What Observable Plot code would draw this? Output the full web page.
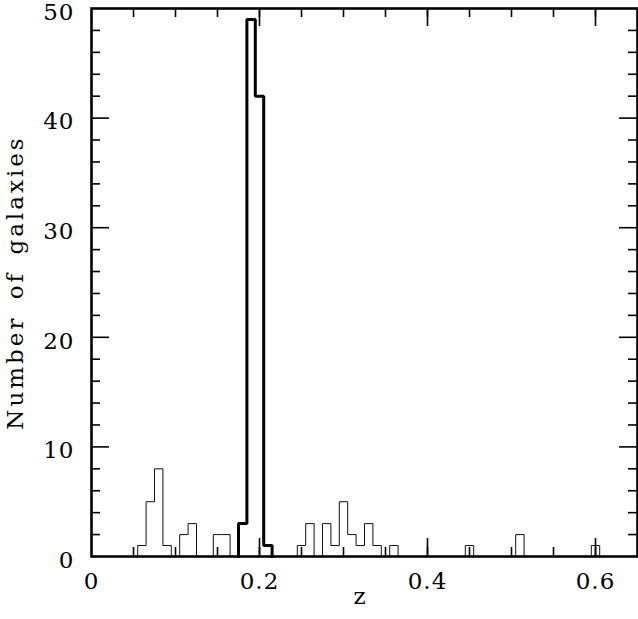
<!DOCTYPE html>
<html>
<head>
<meta charset="utf-8">
<script src="https://cdn.jsdelivr.net/npm/d3@7"></script>
<script src="https://cdn.jsdelivr.net/npm/@observablehq/plot@0.6"></script>
<style>
  html, body { margin: 0; padding: 0; background: #fff; }
</style>
</head>
<body>
<div id="chart"></div>
<script>
// Background / foreground galaxies (thin histogram), bin width 0.01
const binWidth = 0.01;
const fieldBinStart = [0.055,0.065,0.075,0.085,0.105,0.115,0.145,0.155,0.245,0.255,0.275,0.285,0.295,0.305,0.315,0.325,0.335,0.355,0.445,0.505,0.595];
const fieldCount    = [1,5,8,1,2,3,2,2,1,3,3,1,5,2,1,3,1,1,1,2,1];
// Cluster members (thick histogram)
const clusterBinStart = [0.175,0.185,0.195,0.205];
const clusterCount    = [3,49,42,1];

const xTickLabels = [0, 0.2, 0.4, 0.6];
const yTickLabels = [0, 10, 20, 30, 40, 50];
const xMinorTicks = d3.range(1, 13).map(i => +(i * 0.05).toFixed(2));
const yMinorTicks = d3.range(1, 25).map(i => i * 2).filter(v => v % 10 !== 0);
const xMajorTicks = [0.2, 0.4, 0.6];
const yMajorTicks = [10, 20, 30, 40];

function stepPoints(starts, counts) {
  const pts = [];
  for (let i = 0; i < starts.length; i++) {
    const s = starts[i], e = s + binWidth;
    const prevEnd = i > 0 ? starts[i - 1] + binWidth : null;
    if (prevEnd === null || Math.abs(prevEnd - s) > 1e-9) pts.push({z: s, n: 0});
    pts.push({z: s, n: counts[i]});
    const nextStart = i < starts.length - 1 ? starts[i + 1] : null;
    if (nextStart === null || Math.abs(nextStart - e) > 1e-9) pts.push({z: e, n: 0});
  }
  return pts;
}

const fieldPts = stepPoints(fieldBinStart, fieldCount);
const clusterPts = stepPoints(clusterBinStart, clusterCount);

const W = 638, H = 619;
const mL = 91, mR = 1, mT = 8, mB = 63;
const innerH = H - mT - mB;
const innerW = W - mL - mR;
const minorLen = 9, majorLen = 18;
const FS = 23;

const chart = Plot.plot({
  width: W,
  height: H,
  marginLeft: mL,
  marginRight: mR,
  marginTop: mT,
  marginBottom: mB,
  style: {fontFamily: "'DejaVu Serif', serif", fontSize: FS + "px", color: "#000", background: "#fff", overflow: "visible"},
  x: {domain: [0, 0.65], label: null},
  y: {domain: [0, 50], label: null},
  marks: [
    Plot.axisX(xTickLabels, {tickSize: 0, tickPadding: 16, tickFormat: d => d === 0 ? "0" : d.toFixed(1), label: null, fontSize: FS}),
    Plot.axisY(yTickLabels, {tickSize: 0, tickPadding: 17, dy: 4, label: null, fontSize: FS}),
    // minor and major ticks on all four sides (inward)
    Plot.tickX(xMinorTicks, {x: d => d, insetTop: innerH - minorLen, strokeWidth: 1.6}),
    Plot.tickX(xMinorTicks, {x: d => d, insetBottom: innerH - minorLen, strokeWidth: 1.6}),
    Plot.tickX(xMajorTicks, {x: d => d, insetTop: innerH - majorLen, strokeWidth: 1.6}),
    Plot.tickX(xMajorTicks, {x: d => d, insetBottom: innerH - majorLen, strokeWidth: 1.6}),
    Plot.tickY(yMinorTicks, {y: d => d, insetRight: innerW - minorLen, strokeWidth: 1.6}),
    Plot.tickY(yMinorTicks, {y: d => d, insetLeft: innerW - minorLen, strokeWidth: 1.6}),
    Plot.tickY(yMajorTicks, {y: d => d, insetRight: innerW - majorLen, strokeWidth: 1.6}),
    Plot.tickY(yMajorTicks, {y: d => d, insetLeft: innerW - majorLen, strokeWidth: 1.6}),
    Plot.line(fieldPts, {x: "z", y: "n", curve: "step-after", stroke: "#111", strokeWidth: 1}),
    Plot.line(clusterPts, {x: "z", y: "n", curve: "step-after", stroke: "#000", strokeWidth: 3, strokeLinejoin: "miter"}),
    Plot.frame({stroke: "#000", strokeWidth: 2.6}),
    Plot.text(["Number of galaxies"], {frameAnchor: "left", textAnchor: "middle", dx: -76, rotate: -90, text: d => d, fontSize: FS}),
    Plot.text(["z"], {frameAnchor: "bottom", dx: -5, dy: 47, text: d => d, fontSize: FS})
  ]
});
// wider letter spacing like the original plotting font
d3.select(chart).selectAll("text").filter(function() { return this.textContent === "Number of galaxies"; })
  .style("letter-spacing", "3px").style("word-spacing", "6px");
d3.select(chart).selectAll("[aria-label='x-axis tick label'] text, [aria-label='y-axis tick label'] text")
  .style("letter-spacing", "1px");
document.getElementById("chart").appendChild(chart);
</script>
</body>
</html>
